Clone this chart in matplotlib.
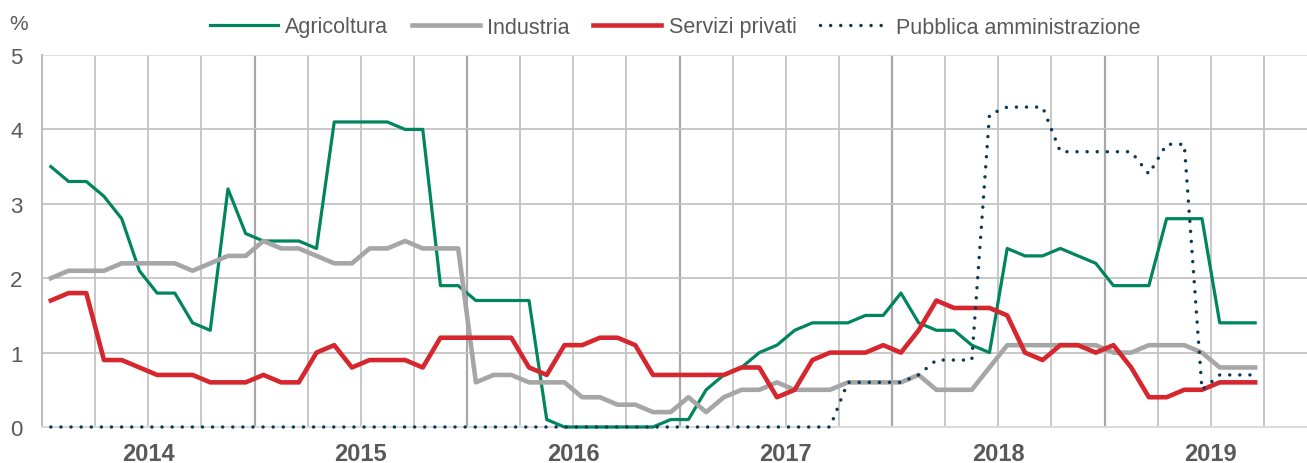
import numpy as np
import pandas as pd
import matplotlib
matplotlib.use("Agg")
import matplotlib.pyplot as plt

# monthly data, Jan 2014 - Sep 2019 (%)
months = pd.period_range("2014-01", "2019-09", freq="M")

agricoltura = [3.5, 3.3, 3.3, 3.1, 2.8, 2.1, 1.8, 1.8, 1.4, 1.3, 3.2, 2.6,
               2.5, 2.5, 2.5, 2.4, 4.1, 4.1, 4.1, 4.1, 4.0, 4.0, 1.9, 1.9,
               1.7, 1.7, 1.7, 1.7, 0.1, 0.0, 0.0, 0.0, 0.0, 0.0, 0.0, 0.1,
               0.1, 0.5, 0.7, 0.8, 1.0, 1.1, 1.3, 1.4, 1.4, 1.4, 1.5, 1.5,
               1.8, 1.4, 1.3, 1.3, 1.1, 1.0, 2.4, 2.3, 2.3, 2.4, 2.3, 2.2,
               1.9, 1.9, 1.9, 2.8, 2.8, 2.8, 1.4, 1.4, 1.4]

industria = [2.0, 2.1, 2.1, 2.1, 2.2, 2.2, 2.2, 2.2, 2.1, 2.2, 2.3, 2.3,
             2.5, 2.4, 2.4, 2.3, 2.2, 2.2, 2.4, 2.4, 2.5, 2.4, 2.4, 2.4,
             0.6, 0.7, 0.7, 0.6, 0.6, 0.6, 0.4, 0.4, 0.3, 0.3, 0.2, 0.2,
             0.4, 0.2, 0.4, 0.5, 0.5, 0.6, 0.5, 0.5, 0.5, 0.6, 0.6, 0.6,
             0.6, 0.7, 0.5, 0.5, 0.5, 0.8, 1.1, 1.1, 1.1, 1.1, 1.1, 1.1,
             1.0, 1.0, 1.1, 1.1, 1.1, 1.0, 0.8, 0.8, 0.8]

servizi_privati = [1.7, 1.8, 1.8, 0.9, 0.9, 0.8, 0.7, 0.7, 0.7, 0.6, 0.6, 0.6,
                   0.7, 0.6, 0.6, 1.0, 1.1, 0.8, 0.9, 0.9, 0.9, 0.8, 1.2, 1.2,
                   1.2, 1.2, 1.2, 0.8, 0.7, 1.1, 1.1, 1.2, 1.2, 1.1, 0.7, 0.7,
                   0.7, 0.7, 0.7, 0.8, 0.8, 0.4, 0.5, 0.9, 1.0, 1.0, 1.0, 1.1,
                   1.0, 1.3, 1.7, 1.6, 1.6, 1.6, 1.5, 1.0, 0.9, 1.1, 1.1, 1.0,
                   1.1, 0.8, 0.4, 0.4, 0.5, 0.5, 0.6, 0.6, 0.6]

pubblica_amm = [0.0] * 45 + [0.6, 0.6, 0.6, 0.6, 0.7, 0.9, 0.9, 0.9, 4.2, 4.3, 4.3,
                             4.3, 3.7, 3.7, 3.7, 3.7, 3.7, 3.4, 3.8, 3.8, 0.5, 0.7,
                             0.7, 0.7]

labels = ["Agricoltura", "Industria", "Servizi privati", "Pubblica amministrazione"]
years = ["2014", "2015", "2016", "2017", "2018", "2019"]

plt.rcParams['font.family'] = ['Liberation Sans', 'DejaVu Sans']
txt = '#595959'

W, H = 1307, 464
fig = plt.figure(figsize=(W / 100, H / 100), dpi=100)
ax = fig.add_axes([42 / W, 1 - 428 / H, 1 - 42 / W, (428 - 56) / H])

x = np.arange(len(months)) + 0.5
x_end = (W - 42) / 17.71

# grid: quarters light, year boundaries darker
for p in range(3, int(x_end) + 1, 3):
    if p % 12 == 0:
        ax.axvline(p, color='#A8A8A8', lw=1.6, zorder=1)
    else:
        ax.axvline(p, color='#C4C4C4', lw=1.3, zorder=1)
for v in [1, 2, 3, 4]:
    ax.axhline(v, color='#C4C4C4', lw=1.3, zorder=1)
ax.axhline(5, color='#DADADA', lw=1.3, zorder=1)

l1, = ax.plot(x, agricoltura, color='#00855F', lw=2.3, clip_on=False, zorder=3)
l2, = ax.plot(x, industria, color='#A6A6A6', lw=3.3, clip_on=False, zorder=4)
l3, = ax.plot(x, servizi_privati, color='#D6262E', lw=3.3, clip_on=False, zorder=5)
l4, = ax.plot(x, pubblica_amm, color='#0A3A57', lw=2.5, linestyle=(0, (0.01, 2.9)),
              dash_capstyle='round', clip_on=False, zorder=6)

ax.set_xlim(0, x_end)
ax.set_ylim(0, 5)

ax.set_xticks([12 * k + 6 for k in range(len(years))])
ax.set_xticklabels(years, fontsize=17, fontweight='bold', color=txt)
ax.set_yticks(range(6))
ax.set_yticklabels([str(v) for v in range(6)], fontsize=16, color=txt)
ax.tick_params(axis='x', length=0, pad=11)
ax.tick_params(axis='y', length=0, pad=14)

for s in ['top', 'right']:
    ax.spines[s].set_visible(False)
ax.spines['left'].set_color('#BDBDBD')
ax.spines['left'].set_linewidth(1.4)
ax.spines['bottom'].set_color('#DADADA')
ax.spines['bottom'].set_linewidth(1.4)

fig.text(9 / W, 1 - 25 / H, '%', fontsize=15, color=txt, ha='left', va='center')

fig.legend([l1, l2, l3, l4], labels, loc='center', bbox_to_anchor=(675 / W, 1 - 28 / H),
           ncol=4, frameon=False, fontsize=15.5, handlelength=3.15, handletextpad=0.35,
           columnspacing=1.1, labelcolor=txt)

fig.savefig("out.png", dpi=100)
